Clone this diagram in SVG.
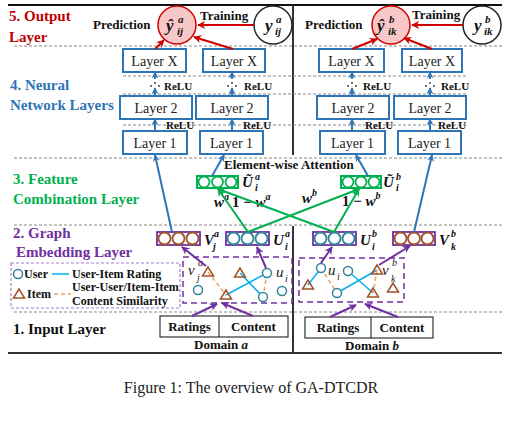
<svg xmlns="http://www.w3.org/2000/svg" width="514" height="424" viewBox="0 0 514 424" font-family="Liberation Serif, Times New Roman, serif">
<style>
.lay{fill:#fff;stroke:#2e75b6;stroke-width:2}
.sep{stroke:#888;stroke-width:1;stroke-dasharray:3,2;fill:none}
.ab{stroke:#2e75b6;stroke-width:2;fill:none;marker-end:url(#mb)}
.ar{stroke:#d00000;stroke-width:2;fill:none;marker-end:url(#mr)}
.ap{stroke:#7030a0;stroke-width:2;fill:none;marker-end:url(#mp)}
.ag{stroke:#00b050;stroke-width:2;fill:none;marker-end:url(#mg)}
.vr{fill:#fff;stroke:#7030a0;stroke-width:1.8}
.gr{fill:#fff;stroke:#00b050;stroke-width:2}
.cb{fill:#fff;stroke:#a0522d;stroke-width:1.8}
.ct{fill:#fff;stroke:#31849b;stroke-width:1.8}
.cg{fill:#fff;stroke:#00b050;stroke-width:1.8}
.nu{fill:#fff;stroke:#31849b;stroke-width:1.5}
.ni{fill:none;stroke:#a0522d;stroke-width:1.5}
.eu{stroke:#00b0f0;stroke-width:1.5}
.es{stroke:#f0a060;stroke-width:1.5;stroke-dasharray:4,3}
.dot{fill:#333}
</style>
<defs>
<marker id="mb" viewBox="0 0 10 10" refX="9" refY="5" markerWidth="7" markerHeight="7" markerUnits="userSpaceOnUse" orient="auto"><path d="M0,0 L10,5 L0,10 L3,5 z" fill="#2e75b6"/></marker>
<marker id="mr" viewBox="0 0 10 10" refX="9" refY="5" markerWidth="8" markerHeight="8" markerUnits="userSpaceOnUse" orient="auto"><path d="M0,0 L10,5 L0,10 L3,5 z" fill="#d00000"/></marker>
<marker id="mp" viewBox="0 0 10 10" refX="9" refY="5" markerWidth="8" markerHeight="8" markerUnits="userSpaceOnUse" orient="auto"><path d="M0,0 L10,5 L0,10 L3,5 z" fill="#7030a0"/></marker>
<marker id="mg" viewBox="0 0 10 10" refX="9" refY="5" markerWidth="8" markerHeight="8" markerUnits="userSpaceOnUse" orient="auto"><path d="M0,0 L10,5 L0,10 L3,5 z" fill="#00b050"/></marker>
</defs>
<rect width="514" height="424" fill="#fff"/>

<g id="frame">
<line x1="8" y1="5" x2="502" y2="5" stroke="#111" stroke-width="2"/>
<line x1="8" y1="353" x2="502" y2="353" stroke="#333" stroke-width="2"/>
<line x1="293" y1="5" x2="293" y2="155" stroke="#333" stroke-width="2"/>
<line x1="293" y1="226" x2="293" y2="353" stroke="#333" stroke-width="2"/>
<line class="sep" x1="14" y1="46" x2="502" y2="46"/>
<line class="sep" x1="123" y1="76" x2="467" y2="76"/>
<line class="sep" x1="123" y1="94" x2="467" y2="94"/>
<line class="sep" x1="123" y1="125" x2="467" y2="125"/>
<line class="sep" x1="14" y1="158" x2="502" y2="158"/>
<line class="sep" x1="14" y1="225" x2="502" y2="225"/>
<line class="sep" x1="14" y1="312" x2="502" y2="312"/>
</g>

<g id="section-labels" font-family="Liberation Serif, serif" font-weight="bold" font-size="15">
<text x="9" y="21" fill="#c00000">5. Output</text>
<text x="9" y="42" fill="#c00000">Layer</text>
<text x="10" y="90" fill="#2e75b6">4. Neural</text>
<text x="10" y="110" fill="#2e75b6">Network Layers</text>
<text x="13" y="184" fill="#00b050">3. Feature</text>
<text x="13" y="204" fill="#00b050">Combination Layer</text>
<text x="13" y="238" fill="#7030a0">2. Graph</text>
<text x="16" y="257" fill="#7030a0">Embedding Layer</text>
<text x="13" y="334" fill="#111">1. Input Layer</text>
</g>

<g id="output-a" font-family="Liberation Serif, serif" font-weight="bold" fill="#111">
<circle cx="177" cy="25" r="19" fill="#f8c8c8" stroke="#d00000" stroke-width="1.5"/>
<text x="166" y="31" font-size="17" font-style="italic">ŷ</text>
<text x="178" y="23" font-size="11" font-style="italic">a</text>
<text x="177" y="35" font-size="11" font-style="italic">ij</text>
<text x="93" y="29" font-size="13">Prediction</text>
</g>
<g id="truth-a" font-family="Liberation Serif, serif" font-weight="bold" fill="#111">
<circle cx="273" cy="25" r="19" fill="#fff" stroke="#222" stroke-width="1.5"/>
<text x="265" y="31" font-size="17" font-style="italic">y</text>
<text x="276" y="23" font-size="11" font-style="italic">a</text>
<text x="275" y="35" font-size="11" font-style="italic">ij</text>
<text x="200" y="20" font-size="13">Training</text>
</g>
<g id="output-b" font-family="Liberation Serif, serif" font-weight="bold" fill="#111">
<circle cx="391" cy="25" r="19" fill="#f8c8c8" stroke="#d00000" stroke-width="1.5"/>
<text x="377" y="31" font-size="17" font-style="italic">ŷ</text>
<text x="389" y="23" font-size="11" font-style="italic">b</text>
<text x="388" y="35" font-size="11" font-style="italic">ik</text>
<text x="305" y="29" font-size="13">Prediction</text>
</g>
<g id="truth-b" font-family="Liberation Serif, serif" font-weight="bold" fill="#111">
<circle cx="482" cy="25" r="19" fill="#fff" stroke="#222" stroke-width="1.5"/>
<text x="474" y="31" font-size="17" font-style="italic">y</text>
<text x="485" y="23" font-size="11" font-style="italic">b</text>
<text x="484" y="35" font-size="11" font-style="italic">ik</text>
<text x="412" y="19" font-size="13">Training</text>
</g>

<g id="layers" font-family="Liberation Serif, serif" font-size="14" text-anchor="middle" fill="#222">
<g id="layerX-1"><rect class="lay" x="123" y="49" width="63" height="23"/><text x="154.5" y="66">Layer X</text></g>
<g id="layerX-2"><rect class="lay" x="203" y="49" width="62" height="23"/><text x="234" y="66">Layer X</text></g>
<g id="layerX-3"><rect class="lay" x="319" y="49" width="65" height="23"/><text x="351.5" y="66">Layer X</text></g>
<g id="layerX-4"><rect class="lay" x="402" y="49" width="60" height="23"/><text x="432" y="66">Layer X</text></g>
<g id="layer2-1"><rect class="lay" x="120" y="96" width="72" height="23"/><text x="156" y="113">Layer 2</text></g>
<g id="layer2-2"><rect class="lay" x="196" y="96" width="72" height="23"/><text x="232" y="113">Layer 2</text></g>
<g id="layer2-3"><rect class="lay" x="317" y="96" width="72" height="23"/><text x="353" y="113">Layer 2</text></g>
<g id="layer2-4"><rect class="lay" x="394" y="96" width="72" height="23"/><text x="430" y="113">Layer 2</text></g>
<g id="layer1-1"><rect class="lay" x="123" y="131" width="64" height="23"/><text x="155" y="148">Layer 1</text></g>
<g id="layer1-2"><rect class="lay" x="200" y="131" width="63" height="23"/><text x="231.5" y="148">Layer 1</text></g>
<g id="layer1-3"><rect class="lay" x="320" y="131" width="65" height="23"/><text x="352.5" y="148">Layer 1</text></g>
<g id="layer1-4"><rect class="lay" x="398" y="131" width="63" height="23"/><text x="429.5" y="148">Layer 1</text></g>
</g>

<g id="relu-labels" font-family="Liberation Serif, serif" font-weight="bold" font-size="11" fill="#111">
<text x="164" y="90">ReLU</text>
<text x="244" y="90">ReLU</text>
<text x="363" y="90">ReLU</text>
<text x="441" y="90">ReLU</text>
<text x="166" y="129">ReLU</text>
<text x="243" y="129">ReLU</text>
<text x="365" y="129">ReLU</text>
<text x="438" y="129">ReLU</text>
<circle class="dot" cx="151" cy="86" r="0.9"/><circle class="dot" cx="155" cy="83" r="0.9"/><circle class="dot" cx="159" cy="86" r="0.9"/>
<circle class="dot" cx="228" cy="86" r="0.9"/><circle class="dot" cx="232" cy="83" r="0.9"/><circle class="dot" cx="236" cy="86" r="0.9"/>
<circle class="dot" cx="348" cy="86" r="0.9"/><circle class="dot" cx="352" cy="83" r="0.9"/><circle class="dot" cx="356" cy="86" r="0.9"/>
<circle class="dot" cx="426" cy="86" r="0.9"/><circle class="dot" cx="430" cy="83" r="0.9"/><circle class="dot" cx="434" cy="86" r="0.9"/>
</g>

<g id="attention" font-family="Liberation Serif, serif" font-weight="bold" fill="#111">
<text x="224" y="169" font-size="13">Element-wise Attention</text>
<text x="214" y="207" font-size="15" font-style="italic">w<tspan dy="-7" font-size="10">a</tspan></text>
<text x="232" y="207" font-size="15"><tspan>1 − </tspan><tspan font-style="italic">w</tspan><tspan dy="-7" font-size="10" font-style="italic">a</tspan></text>
<text x="302" y="203" font-size="15" font-style="italic">w<tspan dy="-7" font-size="10">b</tspan></text>
<text x="342" y="206" font-size="15"><tspan>1 − </tspan><tspan font-style="italic">w</tspan><tspan dy="-7" font-size="10" font-style="italic">b</tspan></text>
</g>

<g id="vectors" font-family="Liberation Serif, serif" font-weight="bold" font-style="italic" fill="#111">
<g id="Ut-a">
<rect class="gr" x="197" y="176" width="41" height="12"/>
<circle class="cg" cx="204" cy="182" r="5.5"/><circle class="cg" cx="217.5" cy="182" r="5.5"/><circle class="cg" cx="231" cy="182" r="5.5"/>
<text x="242" y="187" font-size="15">Ũ</text><text x="255" y="180" font-size="10">a</text><text x="255" y="191" font-size="10">i</text>
</g>
<g id="Ut-b">
<rect class="gr" x="341" y="176" width="40" height="12"/>
<circle class="cg" cx="348" cy="182" r="5.5"/><circle class="cg" cx="361" cy="182" r="5.5"/><circle class="cg" cx="374" cy="182" r="5.5"/>
<text x="383" y="187" font-size="15">Ũ</text><text x="396" y="180" font-size="10">b</text><text x="396" y="191" font-size="10">i</text>
</g>
<g id="V-a">
<rect class="vr" x="157" y="232" width="43" height="13"/>
<circle class="cb" cx="164.5" cy="238.5" r="6"/><circle class="cb" cx="178.5" cy="238.5" r="6"/><circle class="cb" cx="192.5" cy="238.5" r="6"/>
<text x="204" y="245" font-size="15">V</text><text x="214" y="237" font-size="10">a</text><text x="213" y="250" font-size="10">j</text>
</g>
<g id="U-a">
<rect class="vr" x="226" y="232" width="43" height="13"/>
<circle class="ct" cx="233.5" cy="238.5" r="6"/><circle class="ct" cx="247.5" cy="238.5" r="6"/><circle class="ct" cx="261.5" cy="238.5" r="6"/>
<text x="273" y="245" font-size="15">U</text><text x="285" y="237" font-size="10">a</text><text x="285" y="250" font-size="10">i</text>
</g>
<g id="U-b">
<rect class="vr" x="313" y="232" width="43" height="13"/>
<circle class="ct" cx="320.5" cy="238.5" r="6"/><circle class="ct" cx="334.5" cy="238.5" r="6"/><circle class="ct" cx="348.5" cy="238.5" r="6"/>
<text x="360" y="245" font-size="15">U</text><text x="372" y="237" font-size="10">b</text><text x="372" y="250" font-size="10">i</text>
</g>
<g id="V-b">
<rect class="vr" x="393" y="232" width="42" height="13"/>
<circle class="cb" cx="400.5" cy="238.5" r="6"/><circle class="cb" cx="414" cy="238.5" r="6"/><circle class="cb" cx="427.5" cy="238.5" r="6"/>
<text x="439" y="245" font-size="15">V</text><text x="451" y="237" font-size="10">b</text><text x="451" y="250" font-size="10">k</text>
</g>
</g>

<g id="legend" font-family="Liberation Serif, serif" font-weight="bold" font-size="12" fill="#111">
<rect x="11" y="263" width="169" height="45" fill="none" stroke="#a77fd0" stroke-width="1.2" stroke-dasharray="3,2"/>
<circle class="nu" cx="18" cy="274" r="4.5"/>
<text x="24" y="278">User</text>
<line class="eu" x1="52" y1="274" x2="69" y2="274"/>
<text x="72" y="278">User-Item Rating</text>
<path class="ni" d="M19,289 L13.5,298 L24.5,298 Z"/>
<text x="27" y="298">Item</text>
<line class="es" x1="54" y1="294" x2="71" y2="294"/>
<text x="72" y="291">User-User/Item-Item</text>
<text x="72" y="305">Content Similarity</text>
</g>

<g id="graph-a" font-family="Liberation Serif, serif" font-style="italic" fill="#222">
<rect x="183" y="257" width="109" height="46" fill="none" stroke="#7030a0" stroke-width="1.5" stroke-dasharray="6,4"/>
<line class="eu" x1="226" y1="295" x2="267" y2="273"/>
<line class="eu" x1="240" y1="273" x2="263" y2="297"/>
<line class="es" x1="208" y1="272" x2="226" y2="295"/>
<line class="es" x1="267" y1="273" x2="263" y2="297"/>
<path class="ni" d="M208,267 L202.5,276 L213.5,276 Z"/>
<path class="ni" d="M240,268 L234.5,277 L245.5,277 Z"/>
<path class="ni" d="M226,290 L220.5,299 L231.5,299 Z"/>
<circle class="nu" cx="198" cy="290" r="4.5"/>
<circle class="nu" cx="267" cy="273" r="4.5"/>
<circle class="nu" cx="263" cy="297" r="4.5"/>
<circle class="nu" cx="282" cy="291" r="4.5"/>
<text x="188" y="275" font-size="15">v</text><text x="198" y="266" font-size="10">a</text><text x="197" y="281" font-size="10">j</text>
<text x="276" y="277" font-size="15">u</text><text x="285" y="282" font-size="10">i</text>
</g>
<g id="graph-b" font-family="Liberation Serif, serif" font-style="italic" fill="#222">
<rect x="299" y="258" width="105" height="44" fill="none" stroke="#7030a0" stroke-width="1.5" stroke-dasharray="6,4"/>
<line class="eu" x1="308" y1="285" x2="321" y2="268"/>
<line class="eu" x1="337" y1="293" x2="377" y2="270"/>
<line class="eu" x1="348" y1="271" x2="373" y2="293"/>
<line class="es" x1="321" y1="268" x2="337" y2="293"/>
<line class="es" x1="377" y1="270" x2="373" y2="293"/>
<path class="ni" d="M308,280 L302.5,289 L313.5,289 Z"/>
<path class="ni" d="M377,265 L371.5,274 L382.5,274 Z"/>
<path class="ni" d="M373,288 L367.5,297 L378.5,297 Z"/>
<path class="ni" d="M393,283 L387.5,292 L398.5,292 Z"/>
<circle class="nu" cx="321" cy="268" r="4.5"/>
<circle class="nu" cx="348" cy="271" r="4.5"/>
<circle class="nu" cx="337" cy="293" r="4.5"/>
<text x="328" y="275" font-size="15">u</text><text x="337" y="280" font-size="10">i</text>
<text x="382" y="275" font-size="15">v</text><text x="392" y="266" font-size="10">b</text><text x="391" y="282" font-size="10">k</text>
</g>

<g id="input-a" font-family="Liberation Serif, serif" font-weight="bold" font-size="13" fill="#111" text-anchor="middle">
<rect x="160" y="316" width="128" height="21" fill="#fff" stroke="#333" stroke-width="1.2"/>
<line x1="219" y1="316" x2="219" y2="337" stroke="#333" stroke-width="1.2"/>
<text x="189.5" y="331">Ratings</text>
<text x="253.5" y="331">Content</text>
<text x="221" y="349">Domain <tspan font-style="italic">a</tspan></text>
</g>
<g id="input-b" font-family="Liberation Serif, serif" font-weight="bold" font-size="13" fill="#111" text-anchor="middle">
<rect x="305" y="317" width="128" height="21" fill="#fff" stroke="#333" stroke-width="1.2"/>
<line x1="371" y1="317" x2="371" y2="338" stroke="#333" stroke-width="1.2"/>
<text x="338" y="332">Ratings</text>
<text x="402" y="332">Content</text>
<text x="372" y="350">Domain <tspan font-style="italic">b</tspan></text>
</g>

<g id="connectors">
<line class="ar" x1="254" y1="25" x2="198" y2="25"/>
<line class="ar" x1="463" y1="25" x2="412" y2="25"/>
<line class="ar" x1="155" y1="49" x2="164" y2="40"/>
<line class="ar" x1="233" y1="49" x2="194" y2="37"/>
<line class="ar" x1="352" y1="49" x2="377" y2="39"/>
<line class="ar" x1="432" y1="49" x2="404" y2="38"/>
<line class="ab" x1="155" y1="79" x2="155" y2="72"/>
<line class="ab" x1="232" y1="79" x2="232" y2="72"/>
<line class="ab" x1="352" y1="79" x2="352" y2="72"/>
<line class="ab" x1="430" y1="79" x2="430" y2="72"/>
<line class="ab" x1="155" y1="96" x2="155" y2="88"/>
<line class="ab" x1="232" y1="96" x2="232" y2="88"/>
<line class="ab" x1="352" y1="96" x2="352" y2="88"/>
<line class="ab" x1="430" y1="96" x2="430" y2="88"/>
<line class="ab" x1="155" y1="131" x2="155" y2="119"/>
<line class="ab" x1="232" y1="131" x2="232" y2="119"/>
<line class="ab" x1="352" y1="131" x2="352" y2="119"/>
<line class="ab" x1="430" y1="131" x2="430" y2="119"/>
<line class="ab" x1="172" y1="232" x2="155" y2="155"/>
<line class="ab" x1="212" y1="176" x2="224" y2="155"/>
<line class="ab" x1="368" y1="176" x2="356" y2="155"/>
<line class="ab" x1="414" y1="232" x2="432" y2="155"/>
<line class="ag" x1="248" y1="232" x2="218" y2="189"/>
<line class="ag" x1="248" y1="232" x2="359" y2="189"/>
<line class="ag" x1="334" y1="232" x2="218" y2="189"/>
<line class="ag" x1="334" y1="232" x2="359" y2="189"/>
<line class="ap" x1="206" y1="266" x2="182" y2="247"/>
<line class="ap" x1="266" y1="268" x2="257" y2="247"/>
<line class="ap" x1="321" y1="263" x2="332" y2="247"/>
<line class="ap" x1="379" y1="265" x2="410" y2="246"/>
<line class="ap" x1="192" y1="316" x2="217" y2="304"/>
<line class="ap" x1="253" y1="316" x2="222" y2="303"/>
<line class="ap" x1="330" y1="317" x2="356" y2="305"/>
<line class="ap" x1="398" y1="317" x2="365" y2="304"/>
</g>

<text x="251" y="393" font-family="Liberation Serif, serif" font-size="16" text-anchor="middle" fill="#222">Figure 1: The overview of GA-DTCDR</text>
</svg>
